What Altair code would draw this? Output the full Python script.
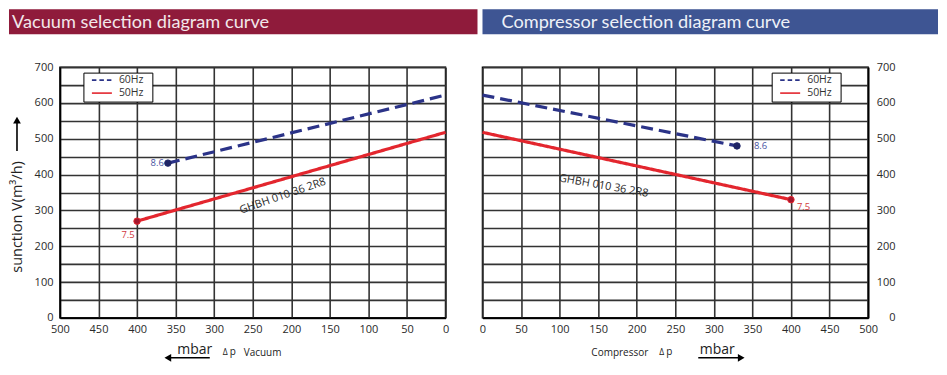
import altair as alt
import pandas as pd

FONT = "Open Sans"
HEAD_FONT = "Lato"

# ---------------- data ----------------
series = ["60Hz", "50Hz"]
end_labels = ["8.6", "7.5"]

vac_dp_60 = [360, 0]
vac_v_60 = [432, 622]
vac_dp_50 = [400, 0]
vac_v_50 = [270, 518]

comp_dp_60 = [0, 330]
comp_v_60 = [622, 480]
comp_dp_50 = [0, 400]
comp_v_50 = [518, 330]

model_label = "GHBH  010 36 2R8"
vac_model_at = [211, 340]
comp_model_at = [157, 368]

x_ticks = list(range(0, 501, 50))
y_ticks = list(range(0, 701, 50))

NAVY = "#2B3388"
RED = "#E3262E"
NAVY_DARK = "#1E2466"
RED_DARK = "#A3172E"
NAVY_TXT = "#4A55A2"
RED_TXT = "#D23A3F"


def line_df(dp60, v60, dp50, v50):
    rows = []
    for d, v in zip(dp60, v60):
        rows.append({"dp": d, "v": v, "series": series[0]})
    for d, v in zip(dp50, v50):
        rows.append({"dp": d, "v": v, "series": series[1]})
    return pd.DataFrame(rows)


def end_df(dp60, v60, dp50, v50):
    i60 = dp60.index(max(dp60))
    i50 = dp50.index(max(dp50))
    return pd.DataFrame([
        {"dp": dp60[i60], "v": v60[i60], "series": series[0], "lab": end_labels[0]},
        {"dp": dp50[i50], "v": v50[i50], "series": series[1], "lab": end_labels[1]},
    ])


one = pd.DataFrame({"k": [0]})


def deco_text(txt, x, y, size, color="#222", font=FONT, align="left", angle=0,
              baseline="alphabetic"):
    return alt.Chart(one).mark_text(
        text=txt, fontSize=size, font=font, color=color, align=align,
        baseline=baseline, angle=angle
    ).encode(x=alt.value(x), y=alt.value(y))


def deco_rule(x, x2, y, y2, color="black", width=1.6, dash=None):
    kw = dict(color=color, strokeWidth=width)
    if dash:
        kw["strokeDash"] = dash
    return alt.Chart(one).mark_rule(**kw).encode(
        x=alt.value(x), x2=alt.value(x2), y=alt.value(y), y2=alt.value(y2))


def deco_tri(shape, x, y, size=70):
    return alt.Chart(one).mark_point(shape=shape, filled=True, color="black",
                                     size=size, opacity=1).encode(
        x=alt.value(x), y=alt.value(y))


def legend_box(x0):
    return [
        alt.Chart(one).mark_rect(fill="white", stroke="black", strokeWidth=1).encode(
            x=alt.value(x0), x2=alt.value(x0 + 69), y=alt.value(6), y2=alt.value(35)),
        deco_rule(x0 + 8, x0 + 28, 13, 13, color=NAVY, width=1.6, dash=[4.5, 3]),
        deco_rule(x0 + 8, x0 + 28, 26, 26, color=RED, width=1.6),
        deco_text(series[0], x0 + 35, 13, 10.5, color="#333", baseline="middle"),
        deco_text(series[1], x0 + 35, 26, 10.5, color="#333", baseline="middle"),
    ]


def panel(dp60, v60, dp50, v50, model_at, model_angle, reverse, y_orient,
          lab60, lab50, decos):
    ldf = line_df(dp60, v60, dp50, v50)
    edf = end_df(dp60, v60, dp50, v50)

    x = alt.X("dp:Q", scale=alt.Scale(domain=[0, 500], reverse=reverse, nice=False),
              axis=alt.Axis(values=x_ticks, title=None, labelPadding=6,
                            labelFlush=False))
    if y_orient == "left":
        yaxis = alt.Axis(values=y_ticks, title=None, orient="left", labelPadding=7,
                         labelExpr="datum.value % 100 == 0 ? datum.label : ''")
    else:
        yaxis = alt.Axis(values=y_ticks, title=None, orient="right", labelPadding=27,
                         labelAlign="right",
                         labelExpr="datum.value % 100 == 0 ? datum.label : ''")
    y = alt.Y("v:Q", scale=alt.Scale(domain=[0, 700], nice=False), axis=yaxis)

    lines = alt.Chart(ldf).mark_line(strokeWidth=3.2).encode(
        x=x, y=y,
        color=alt.Color("series:N", scale=alt.Scale(domain=series, range=[NAVY, RED]),
                        legend=None),
        strokeDash=alt.StrokeDash("series:N",
                                  scale=alt.Scale(domain=series, range=[[12, 6], [1, 0]]),
                                  legend=None),
    )
    pts = alt.Chart(edf).mark_point(filled=True, size=42, opacity=1, strokeWidth=1).encode(
        x=x, y=y,
        fill=alt.Fill("series:N", scale=alt.Scale(domain=series, range=[NAVY_DARK, RED_DARK]),
                      legend=None),
        stroke=alt.Stroke("series:N", scale=alt.Scale(domain=series, range=[NAVY_DARK, RED]),
                          legend=None),
    )
    t60 = alt.Chart(edf).transform_filter(f"datum.series == '{series[0]}'").mark_text(
        font=FONT, fontSize=9.5, color=NAVY_TXT, baseline="middle", **lab60
    ).encode(x=x, y=y, text="lab:N")
    t50 = alt.Chart(edf).transform_filter(f"datum.series == '{series[1]}'").mark_text(
        font=FONT, fontSize=9.5, color=RED_TXT, baseline="middle", **lab50
    ).encode(x=x, y=y, text="lab:N")

    mdf = pd.DataFrame({"dp": [model_at[0]], "v": [model_at[1]], "t": [model_label]})
    model = alt.Chart(mdf).mark_text(
        font=FONT, fontSize=11, color="#2a2a2a", angle=model_angle,
        align="center", baseline="middle"
    ).encode(x=x, y=y, text="t:N")

    return alt.layer(lines, pts, t60, t50, model, *decos).properties(width=386, height=251)


left_decos = legend_box(24) + [
    alt.Chart(one).mark_rect(color="#8F1B3B").encode(
        x=alt.value(-51), x2=alt.value(418), y=alt.value(-58), y2=alt.value(-33)),
    deco_text("Vacuum selection diagram curve", -48, -39, 18.2, color="#F3E7EA",
              font=HEAD_FONT),
    deco_text("sunction V(m³/h)", -42, 150, 14.5, color="#222", align="center",
              angle=270, baseline="middle"),
    deco_rule(-43, -43, 54, 84),
    deco_tri("triangle-up", -43, 53, 60),
    deco_text("mbar", 135, 287, 14, color="#222", align="center"),
    deco_rule(108, 150, 291, 291),
    deco_tri("triangle-left", 108, 291, 60),
    deco_text("Δ", 165.5, 288, 8.5, color="#222", align="center"),
    deco_text("p", 173, 288, 10, color="#222", align="center"),
    deco_text("Vacuum", 184, 289, 10, color="#222"),
]

right_decos = legend_box(290) + [
    alt.Chart(one).mark_rect(color="#3E5593").encode(
        x=alt.value(0), x2=alt.value(456), y=alt.value(-58), y2=alt.value(-33)),
    deco_text("Compressor selection diagram curve", 19, -39, 18.2, color="#EEF1F8",
              font=HEAD_FONT),
    deco_text("Compressor", 109, 289, 10, color="#222"),
    deco_text("Δ", 179.5, 288, 8.5, color="#222", align="center"),
    deco_text("p", 187, 288, 10, color="#222", align="center"),
    deco_text("mbar", 235, 287, 14, color="#222", align="center"),
    deco_rule(216, 259, 291, 291),
    deco_tri("triangle-right", 259, 291, 60),
]

left = panel(vac_dp_60, vac_v_60, vac_dp_50, vac_v_50, vac_model_at, 341, True, "left",
             {"align": "right", "dx": -4}, {"align": "center", "dx": -9, "dy": 14},
             left_decos)
right = panel(comp_dp_60, comp_v_60, comp_dp_50, comp_v_50, comp_model_at, 10, False, "right",
              {"align": "left", "dx": 17}, {"align": "left", "dx": 6, "dy": 7},
              right_decos)

chart = alt.hconcat(left, right, spacing=37, bounds="flush").resolve_scale(
    x="independent", y="independent", color="independent", fill="independent",
    stroke="independent", strokeDash="independent"
).properties(padding=0).configure_view(
    stroke="black", strokeWidth=1.5
).configure_axis(
    grid=True, gridColor="#333333", gridWidth=1.6, domainColor="black", domainWidth=1.5,
    ticks=False, tickSize=0, labelFont=FONT, labelFontSize=11, labelColor="#2a2a2a"
).configure_axisY(labelBaseline="middle")

chart.save("out.html", embed_options={"renderer": "svg", "actions": False})
